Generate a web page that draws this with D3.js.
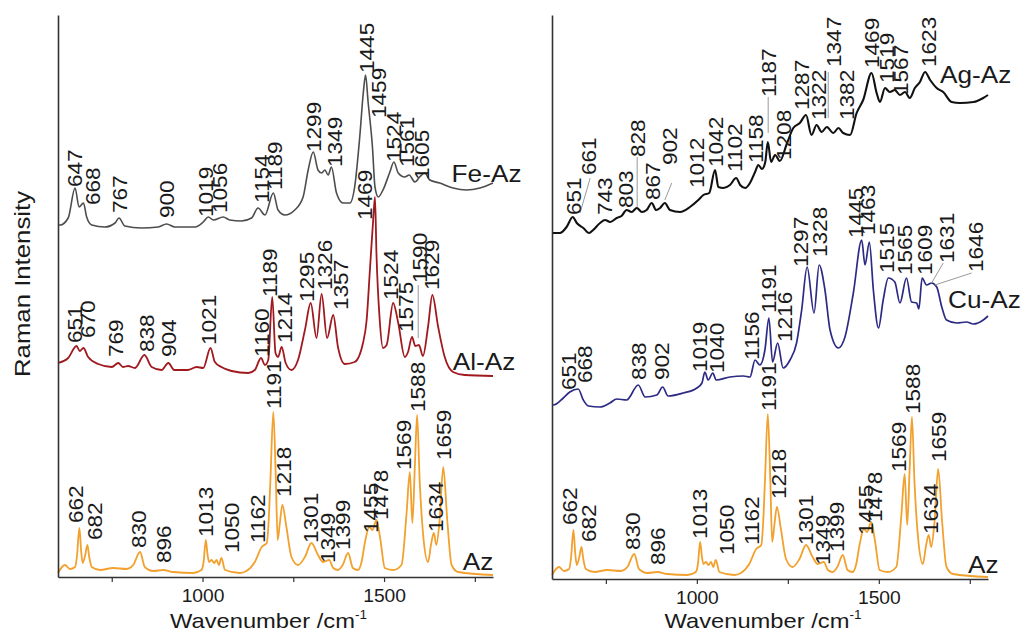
<!DOCTYPE html>
<html lang="en">

<head>
  <meta charset="utf-8">
  <title>Raman spectra</title>
  <script src="https://cdn.jsdelivr.net/npm/d3@7"></script>
  <style>
    body { margin: 0; background: #fff; }
    text { font-family: "Liberation Sans", Arial, sans-serif; fill: #1a1a1a; }
  </style>
</head>

<body>
  <script>

    const w = 1026;
    const h = 634;

    // x axis
    const wnRange = [602, 1800];
    const tickValues = [750, 1000, 1250, 1500, 1750];
    const tickLabels = [1000, 1500];

    // spectra: [wavenumber, intensity (a.u.)]
    const feAz = [[602, 352], [608, 352], [630, 359], [649, 389], [660, 370], [672, 374], [681, 360], [695, 352], [731, 350], [759, 354], [770, 359], [786, 351], [832, 349], [878, 350], [901, 353], [924, 350], [980, 350], [1002, 355], [1016, 360], [1030, 357], [1057, 360], [1075, 357], [1107, 356], [1135, 359], [1153, 369], [1172, 362], [1195, 384], [1208, 367], [1227, 362], [1254, 367], [1277, 380], [1291, 407], [1305, 425], [1318, 407], [1328, 404], [1337, 407], [1346, 402], [1355, 410], [1369, 384], [1387, 374], [1406, 374], [1419, 390], [1433, 440], [1443, 485], [1449, 502], [1456, 475], [1468, 430], [1475, 390], [1484, 380], [1497, 387], [1516, 405], [1527, 415], [1539, 404], [1557, 400], [1569, 402], [1585, 395], [1598, 400], [1612, 404], [1626, 397], [1653, 394], [1690, 389], [1727, 387], [1764, 389], [1800, 394]];

    const alAz = [[602, 214], [630, 219], [653, 231], [662, 226], [672, 229], [685, 220], [713, 213], [750, 210], [768, 214], [781, 210], [795, 211], [814, 209], [840, 222], [860, 210], [887, 207], [906, 214], [922, 207], [959, 207], [984, 210], [1002, 209], [1022, 229], [1034, 215], [1052, 210], [1080, 206], [1126, 204], [1144, 207], [1161, 219], [1172, 212], [1181, 217], [1192, 280], [1201, 224], [1208, 220], [1218, 230], [1229, 214], [1245, 207], [1263, 217], [1282, 247], [1298, 274], [1314, 239], [1328, 283], [1343, 239], [1360, 262], [1373, 230], [1392, 213], [1419, 215], [1442, 234], [1452, 257], [1461, 307], [1470, 357], [1475, 380], [1479, 324], [1488, 257], [1497, 229], [1507, 232], [1525, 274], [1539, 254], [1557, 220], [1566, 225], [1577, 240], [1586, 231], [1596, 232], [1607, 221], [1621, 250], [1633, 282], [1649, 250], [1667, 220], [1690, 205], [1722, 202], [1800, 201]];

    const az = [[602, 4], [621, 12], [635, 8], [649, 10], [654, 20], [661, 49], [666, 25], [670, 14], [677, 22], [683, 32], [688, 20], [695, 10], [718, 7], [754, 9], [791, 8], [809, 12], [828, 25], [841, 10], [864, 6], [892, 7], [919, 5], [974, 4], [997, 7], [1003, 15], [1009, 37], [1014, 22], [1018, 15], [1025, 17], [1032, 14], [1039, 17], [1045, 12], [1052, 19], [1062, 7], [1103, 4], [1121, 6], [1144, 15], [1163, 30], [1177, 34], [1182, 55], [1187, 97], [1195, 165], [1202, 97], [1207, 37], [1213, 54], [1220, 72], [1231, 50], [1245, 20], [1263, 12], [1282, 20], [1300, 34], [1318, 22], [1332, 15], [1349, 17], [1360, 9], [1373, 7], [1386, 12], [1401, 24], [1414, 9], [1428, 7], [1438, 15], [1447, 34], [1459, 50], [1468, 47], [1479, 57], [1490, 37], [1502, 9], [1525, 7], [1548, 12], [1562, 64], [1571, 105], [1578, 54], [1585, 113], [1591, 162], [1598, 97], [1609, 37], [1621, 15], [1630, 34], [1637, 44], [1644, 32], [1653, 57], [1663, 110], [1674, 57], [1686, 12], [1704, 5], [1800, 2]];

    const agAz = [[602, 346], [624, 346], [642, 352], [659, 362], [670, 356], [688, 351], [704, 346], [715, 349], [734, 356], [748, 359], [762, 357], [780, 361], [793, 363], [807, 369], [821, 367], [835, 371], [849, 367], [862, 369], [876, 376], [888, 369], [899, 371], [912, 376], [926, 369], [954, 367], [981, 372], [1004, 379], [1018, 384], [1034, 386], [1050, 409], [1059, 392], [1073, 391], [1091, 394], [1108, 401], [1119, 394], [1133, 391], [1146, 396], [1160, 407], [1169, 414], [1179, 410], [1188, 417], [1195, 437], [1204, 417], [1215, 424], [1228, 418], [1247, 435], [1265, 451], [1283, 456], [1300, 464], [1315, 444], [1329, 454], [1343, 447], [1357, 452], [1375, 446], [1389, 451], [1402, 446], [1421, 444], [1439, 466], [1457, 479], [1480, 506], [1494, 486], [1503, 477], [1517, 491], [1530, 487], [1544, 489], [1558, 484], [1572, 487], [1585, 481], [1599, 491], [1613, 497], [1627, 507], [1641, 499], [1659, 491], [1677, 487], [1700, 477], [1723, 476], [1760, 477], [1787, 481], [1800, 484]];

    const cuAz = [[602, 174], [606, 174], [633, 181], [651, 187], [674, 190], [688, 179], [702, 173], [734, 172], [761, 176], [780, 180], [807, 179], [839, 194], [858, 182], [890, 184], [906, 192], [921, 183], [963, 186], [1000, 191], [1014, 196], [1022, 207], [1031, 199], [1044, 206], [1053, 199], [1091, 202], [1128, 203], [1146, 202], [1160, 219], [1173, 214], [1187, 229], [1198, 261], [1208, 217], [1222, 236], [1237, 211], [1256, 219], [1274, 236], [1288, 269], [1303, 312], [1322, 266], [1336, 314], [1352, 289], [1366, 249], [1389, 231], [1407, 242], [1430, 286], [1453, 339], [1462, 314], [1474, 337], [1485, 289], [1499, 251], [1512, 279], [1526, 301], [1544, 297], [1558, 276], [1576, 301], [1590, 277], [1604, 276], [1610, 270], [1619, 301], [1631, 294], [1645, 296], [1659, 292], [1673, 272], [1686, 259], [1714, 256], [1741, 257], [1760, 255], [1787, 259], [1800, 263]];

    // peak labels: [text, wavenumber, intensity where the text starts]
    const feLabels = [["647", 649, 390], ["668", 697, 372], ["767", 773, 364], ["900", 901, 359], ["1019", 1009, 360], ["1056", 1048, 364], ["1154", 1163, 374], ["1189", 1199, 387], ["1299", 1307, 425], ["1349", 1364, 410], ["1445", 1453, 504], ["1459", 1486, 459], ["1524", 1527, 415], ["1561", 1563, 410], ["1605", 1605, 397]];
    const alLabels = [["651", 647, 234], ["670", 683, 239], ["769", 761, 220], ["838", 846, 225], ["904", 906, 220], ["1021", 1016, 232], ["1160", 1163, 220], ["1189", 1185, 280], ["1214", 1227, 234], ["1295", 1287, 275], ["1326", 1337, 287], ["1357", 1380, 267], ["1469", 1447, 357], ["1524", 1518, 277], ["1575", 1559, 245], ["1590", 1598, 294], ["1629", 1631, 287]];
    const azLabels = [["662", 651, 54], ["682", 704, 37], ["830", 825, 29], ["896", 894, 14], ["1013", 1009, 40], ["1050", 1082, 24], ["1162", 1151, 34], ["1191", 1197, 168], ["1218", 1224, 80], ["1301", 1298, 34], ["1349", 1346, 14], ["1399", 1385, 27], ["1455", 1463, 44], ["1478", 1490, 57], ["1569", 1554, 107], ["1588", 1594, 165], ["1634", 1642, 45], ["1659", 1665, 117]];
    const agLabels = [["651", 661, 364], ["661", 702, 404], ["743", 748, 364], ["803", 804, 371], ["828", 839, 422], ["867", 878, 379], ["902", 926, 414], ["1012", 1000, 391], ["1042", 1052, 412], ["1102", 1105, 407], ["1158", 1162, 416], ["1187", 1198, 482], ["1208", 1239, 419], ["1287", 1288, 469], ["1322", 1334, 459], ["1347", 1377, 512], ["1382", 1413, 459], ["1469", 1482, 511], ["1519", 1523, 496], ["1567", 1560, 484], ["1623", 1638, 512]];
    const cuLabels = [["651", 647, 189], ["668", 693, 196], ["838", 841, 199], ["902", 903, 199], ["1019", 1009, 207], ["1040", 1056, 206], ["1156", 1152, 219], ["1191", 1198, 266], ["1216", 1242, 237], ["1297", 1285, 312], ["1328", 1338, 322], ["1445", 1436, 341], ["1463", 1471, 344], ["1515", 1522, 306], ["1565", 1572, 304], ["1609", 1627, 304], ["1631", 1688, 316], ["1646", 1766, 307]];

    // leader lines: [wn1, int1, wn2, int2]
    const alLeaders = [[1594, 292, 1594, 239]];
    const agLeaders = [[707, 401, 679, 366], [836, 422, 836, 372], [931, 396, 912, 379], [1196, 482, 1196, 446], [1361, 507, 1361, 461]];
    const cuLeaders = [[1677, 316, 1645, 296], [1755, 306, 1654, 294]];

    // sample names: [name, wavenumber, intensity]
    const leftNames = [["Fe-Az", 1686, 395], ["Al-Az", 1689, 207], ["Az", 1717, 7]];
    const rightNames = [["Ag-Az", 1668, 496], ["Cu-Az", 1690, 271], ["Az", 1745, 6]];

    const svg = d3.select("body")
      .append("svg")
      .attr("width", w)
      .attr("height", h);

    svg.append("rect").attr("width", w).attr("height", h).attr("fill", "#fff");

    function drawPanel(p) {
      const x = d3.scaleLinear().domain(wnRange).range([p.x0, p.x1]);
      const y = d3.scaleLinear().domain([0, p.yb - 15]).range([p.yb, 15]);
      const g = svg.append("g");

      const line = d3.line()
        .x(d => x(d[0]))
        .y(d => y(d[1]))
        .curve(d3.curveMonotoneX);

      // spectra
      p.series.forEach(s => {
        g.append("path")
          .datum(s.data)
          .attr("d", line)
          .attr("fill", "none")
          .attr("stroke", s.color)
          .attr("stroke-width", s.width)
          .attr("stroke-linejoin", "round");
      });

      // leader lines
      g.selectAll(null)
        .data(p.leaders)
        .enter()
        .append("line")
        .attr("x1", d => x(d[0]))
        .attr("y1", d => y(d[1]))
        .attr("x2", d => x(d[2]))
        .attr("y2", d => y(d[3]))
        .attr("stroke", "#9a9a9a")
        .attr("stroke-width", 1);

      // peak labels, rotated
      p.series.forEach(s => {
        g.selectAll(null)
          .data(s.labels)
          .enter()
          .append("text")
          .attr("transform", d => `translate(${x(d[1])},${y(d[2])}) rotate(-90) scale(1.13,1)`)
          .attr("dy", "0.36em")
          .style("font-size", "20px")
          .text(d => d[0]);
      });

      // sample names
      g.selectAll(null)
        .data(p.names)
        .enter()
        .append("text")
        .attr("transform", d => `translate(${x(d[1])},${y(d[2])}) scale(1.14,1)`)
        .style("font-size", "23px")
        .text(d => d[0]);

      // axes
      const xAxis = d3.axisBottom(x)
        .tickValues(tickValues)
        .tickFormat(d => tickLabels.includes(d) ? d : "")
        .tickSize(5)
        .tickSizeOuter(0)
        .tickPadding(8);

      const gx = g.append("g")
        .attr("transform", `translate(0,${p.yb})`)
        .call(xAxis);
      gx.select(".domain").attr("stroke", "#333").attr("stroke-width", 1.6);
      gx.selectAll(".tick line").attr("stroke", "#333").attr("stroke-width", 1.2);
      gx.selectAll(".tick text")
        .attr("transform", "scale(1.1,1)")
        .style("font-size", "17.5px")
        .style("font-family", "Liberation Sans, Arial, sans-serif")
        .attr("fill", "#1a1a1a");

      const yAxis = d3.axisLeft(y).tickValues([]).tickSizeOuter(0);
      g.append("g")
        .attr("transform", `translate(${p.x0},0)`)
        .call(yAxis)
        .select(".domain")
        .attr("stroke", "#333")
        .attr("stroke-width", 1.6);

      // x title
      const t = g.append("text")
        .attr("transform", `translate(${(p.x0 + p.x1) / 2 - 7},628) scale(1.13,1)`)
        .attr("text-anchor", "middle")
        .style("font-size", "21px");
      t.append("tspan").text("Wavenumber /cm");
      t.append("tspan").attr("dy", "-9").style("font-size", "12px").text("-1");
    }

    drawPanel({
      x0: 58, x1: 493, yb: 577,
      series: [
        { data: feAz, labels: feLabels, color: "#4d4d4d", width: 1.6 },
        { data: alAz, labels: alLabels, color: "#a0191f", width: 1.8 },
        { data: az, labels: azLabels, color: "#f2a12e", width: 1.8 }
      ],
      leaders: alLeaders,
      names: leftNames
    });

    drawPanel({
      x0: 552, x1: 988, yb: 579,
      series: [
        { data: agAz, labels: agLabels, color: "#111111", width: 2.1 },
        { data: cuAz, labels: cuLabels, color: "#2c2a85", width: 1.7 },
        { data: az, labels: azLabels, color: "#f2a12e", width: 1.8 }
      ],
      leaders: agLeaders.concat(cuLeaders),
      names: rightNames
    });

    // y title
    svg.append("text")
      .attr("transform", "translate(30,284) rotate(-90) scale(1.12,1)")
      .attr("text-anchor", "middle")
      .style("font-size", "23px")
      .text("Raman Intensity");

  </script>
</body>

</html>
